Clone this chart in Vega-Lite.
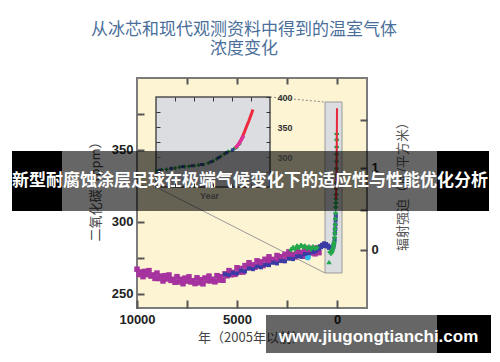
{
"$schema": "https://vega.github.io/schema/vega-lite/v6.json",
"width": 230, "height": 230,
"autosize": {"type": "none"},
"padding": {"left": 137, "top": 78, "right": 133, "bottom": 54},
"background": "white",
"title": {"text": ["从冰芯和现代观测资料中得到的温室气体", "浓度变化"], "font": "Noto Sans CJK SC", "fontSize": 17, "fontWeight": "normal", "color": "#4a6f9a", "lineHeight": 19, "anchor": "middle", "dx": -8, "offset": 19, "frame": "group"},
"config": {"view": {"fill": "#fdf4d3", "stroke": "#7b7b7b", "strokeWidth": 2}, "axis": {"grid": false, "domain": false, "labelFlush": false, "labelOverlap": false, "labelBound": false}},
"datasets": {
"main": [
{"s":"p","t":10000,"c":267},{"s":"p","t":9900,"c":263.3},{"s":"p","t":9800,"c":265.1},{"s":"p","t":9700,"c":261.8},{"s":"p","t":9600,"c":265.5},{"s":"p","t":9500,"c":263.2},{"s":"p","t":9400,"c":266},{"s":"p","t":9300,"c":262.2},{"s":"p","t":9200,"c":263},{"s":"p","t":9100,"c":260.6},
{"s":"p","t":9000,"c":264.3},{"s":"p","t":8900,"c":260.5},{"s":"p","t":8800,"c":262.2},{"s":"p","t":8700,"c":258.8},{"s":"p","t":8600,"c":262.5},{"s":"p","t":8500,"c":260.2},{"s":"p","t":8400,"c":263},{"s":"p","t":8300,"c":259.2},{"s":"p","t":8200,"c":260},{"s":"p","t":8100,"c":257.9},
{"s":"p","t":8000,"c":261.8},{"s":"p","t":7900,"c":258.1},{"s":"p","t":7800,"c":260},{"s":"p","t":7700,"c":256.9},{"s":"p","t":7600,"c":260.8},{"s":"p","t":7500,"c":258.7},{"s":"p","t":7400,"c":261.7},{"s":"p","t":7300,"c":258.1},{"s":"p","t":7200,"c":259},{"s":"p","t":7100,"c":257},
{"s":"p","t":7000,"c":261},{"s":"p","t":6900,"c":257.6},{"s":"p","t":6800,"c":259.7},{"s":"p","t":6700,"c":256.8},{"s":"p","t":6600,"c":260.9},{"s":"p","t":6500,"c":259},{"s":"p","t":6400,"c":262.2},{"s":"p","t":6300,"c":258.8},{"s":"p","t":6200,"c":260},{"s":"p","t":6100,"c":258.2},
{"s":"p","t":6000,"c":262.5},{"s":"p","t":5900,"c":259.4},{"s":"p","t":5800,"c":261.8},{"s":"p","t":5700,"c":259.3},{"s":"p","t":5600,"c":263.8},{"s":"p","t":5500,"c":262.4},{"s":"p","t":5400,"c":266},{"s":"p","t":5300,"c":263.1},{"s":"p","t":5200,"c":264.8},{"s":"p","t":5100,"c":263.4},
{"s":"p","t":5000,"c":268},{"s":"p","t":4900,"c":265},{"s":"p","t":4800,"c":267.5},{"s":"p","t":4700,"c":265},{"s":"p","t":4600,"c":269.5},{"s":"p","t":4500,"c":268},{"s":"p","t":4400,"c":271.5},{"s":"p","t":4300,"c":268.5},{"s":"p","t":4200,"c":270},{"s":"p","t":4100,"c":268.4},
{"s":"p","t":4000,"c":272.8},{"s":"p","t":3900,"c":269.7},{"s":"p","t":3800,"c":272.1},{"s":"p","t":3700,"c":269.5},{"s":"p","t":3600,"c":273.9},{"s":"p","t":3500,"c":272.3},{"s":"p","t":3400,"c":275.6},{"s":"p","t":3300,"c":272.5},{"s":"p","t":3200,"c":273.8},{"s":"p","t":3100,"c":272.2},
{"s":"p","t":3000,"c":276.5},{"s":"p","t":2900,"c":273.4},{"s":"p","t":2800,"c":275.7},{"s":"p","t":2700,"c":273.1},{"s":"p","t":2600,"c":277.4},{"s":"p","t":2500,"c":275.8},{"s":"p","t":2400,"c":279.1},{"s":"p","t":2300,"c":275.9},{"s":"p","t":2200,"c":277.2},{"s":"p","t":2100,"c":275.5},
{"s":"p","t":2000,"c":279.7},{"s":"p","t":1900,"c":276.5},{"s":"p","t":1800,"c":278.7},{"s":"p","t":1700,"c":276},{"s":"p","t":1600,"c":280.2},{"s":"p","t":1500,"c":278.4},{"s":"p","t":1400,"c":281.6},{"s":"p","t":1300,"c":278.3},{"s":"p","t":1200,"c":279.5},{"s":"p","t":1100,"c":277.7},
{"s":"p","t":1000,"c":281.8},{"s":"p","t":900,"c":278.5},
{"s":"b","t":5600,"c":263.5},{"s":"b","t":5400,"c":263},{"s":"b","t":5200,"c":264.5},{"s":"b","t":5000,"c":264},{"s":"b","t":4800,"c":266},{"s":"b","t":4600,"c":265.5},{"s":"b","t":4400,"c":267.5},{"s":"b","t":4200,"c":267},{"s":"b","t":4000,"c":268.8},{"s":"b","t":3800,"c":268.3},
{"s":"b","t":3600,"c":270},{"s":"b","t":3400,"c":269.8},{"s":"b","t":3200,"c":271.5},{"s":"b","t":3000,"c":271},{"s":"b","t":2800,"c":272.8},{"s":"b","t":2600,"c":272.5},{"s":"b","t":2400,"c":274.3},{"s":"b","t":2200,"c":274},{"s":"b","t":2000,"c":276},{"s":"b","t":1800,"c":275.8},
{"s":"b","t":1600,"c":277.5},{"s":"b","t":1400,"c":277.3},{"s":"b","t":1200,"c":279},{"s":"b","t":1150,"c":280},{"s":"b","t":1100,"c":279.5},{"s":"b","t":1050,"c":281},{"s":"b","t":1000,"c":280.5},{"s":"b","t":950,"c":282},{"s":"b","t":900,"c":281.2},{"s":"b","t":850,"c":283},
{"s":"b","t":800,"c":282.2},{"s":"b","t":750,"c":284},{"s":"b","t":700,"c":283},{"s":"b","t":650,"c":285},{"s":"b","t":600,"c":283.5},{"s":"b","t":550,"c":284.5},{"s":"b","t":500,"c":282.8},{"s":"b","t":450,"c":283.5},{"s":"b","t":400,"c":281.8},{"s":"b","t":350,"c":282.5},
{"s":"b","t":300,"c":280.8},{"s":"b","t":250,"c":281},{"s":"b","t":200,"c":282},{"s":"b","t":180,"c":283},{"s":"b","t":160,"c":284},{"s":"b","t":140,"c":285.5},{"s":"b","t":120,"c":288},{"s":"b","t":100,"c":292},{"s":"b","t":90,"c":295},{"s":"b","t":80,"c":298},{"s":"b","t":70,"c":301},{"s":"b","t":60,"c":304},
{"s":"c","t":1500,"c":275},{"s":"c","t":1450,"c":274.5},{"s":"c","t":1400,"c":275.5},
{"s":"g","t":2300,"c":280.5},{"s":"g","t":2200,"c":282},{"s":"g","t":2100,"c":281},{"s":"g","t":2000,"c":283},{"s":"g","t":1900,"c":282},{"s":"g","t":1800,"c":283.5},{"s":"g","t":1700,"c":282.5},{"s":"g","t":1600,"c":283},{"s":"g","t":1500,"c":281.5},{"s":"g","t":1400,"c":282.5},{"s":"g","t":1300,"c":281},{"s":"g","t":1200,"c":282.5},{"s":"g","t":1100,"c":281.5},{"s":"g","t":1000,"c":282},
{"s":"g","t":350,"c":279},{"s":"g","t":300,"c":278},{"s":"g","t":260,"c":279},{"s":"g","t":230,"c":280},{"s":"g","t":200,"c":281.5},{"s":"g","t":180,"c":283},{"s":"g","t":160,"c":284.5},{"s":"g","t":140,"c":286},{"s":"g","t":120,"c":289},{"s":"g","t":110,"c":292},{"s":"g","t":100,"c":295},{"s":"g","t":90,"c":298},{"s":"g","t":80,"c":302},{"s":"g","t":70,"c":306},{"s":"g","t":60,"c":310},{"s":"g","t":55,"c":313},{"s":"g","t":50,"c":316},{"s":"g","t":45,"c":319},{"s":"g","t":40,"c":323},{"s":"g","t":35,"c":327},{"s":"g","t":30,"c":332},{"s":"g","t":27,"c":337},{"s":"g","t":24,"c":342},{"s":"g","t":20,"c":347},{"s":"g","t":17,"c":352},{"s":"g","t":14,"c":357},{"s":"g","t":11,"c":361},
{"s":"gt","t":400,"c":272},
{"s":"r","t":47,"c":315.5},{"s":"r","t":42,"c":318},{"s":"r","t":37,"c":322},{"s":"r","t":32,"c":326},{"s":"r","t":27,"c":331},{"s":"r","t":22,"c":337},{"s":"r","t":17,"c":345},{"s":"r","t":12,"c":352},{"s":"r","t":7,"c":362},{"s":"r","t":2,"c":373},{"s":"r","t":0,"c":379}
],
"inset": [
{"s":"g","t":1752,"c":277.5},{"s":"g","t":1765,"c":278.5},{"s":"g","t":1778,"c":279.5},{"s":"g","t":1790,"c":280.5},{"s":"g","t":1800,"c":281.5},{"s":"g","t":1812,"c":283},{"s":"g","t":1825,"c":284},{"s":"g","t":1837,"c":284.5},{"s":"g","t":1850,"c":285.5},{"s":"g","t":1862,"c":286.5},{"s":"g","t":1875,"c":287.5},{"s":"g","t":1888,"c":290},{"s":"g","t":1900,"c":293},{"s":"g","t":1910,"c":297},{"s":"g","t":1920,"c":301},{"s":"g","t":1930,"c":305},{"s":"g","t":1940,"c":309},{"s":"g","t":1950,"c":311},{"s":"g","t":1955,"c":313.5},{"s":"g","t":1962,"c":316},{"s":"g","t":1970,"c":322},{"s":"g","t":1978,"c":333},
{"s":"b","t":1760,"c":278},{"s":"b","t":1790,"c":281},{"s":"b","t":1820,"c":284},{"s":"b","t":1845,"c":285.5},{"s":"b","t":1870,"c":287.5},{"s":"b","t":1895,"c":292},{"s":"b","t":1915,"c":299},{"s":"b","t":1935,"c":307},{"s":"b","t":1952,"c":312},
{"s":"m","t":1960,"c":316},{"s":"m","t":1964,"c":318.5},{"s":"m","t":1968,"c":322},{"s":"m","t":1972,"c":326},{"s":"m","t":1976,"c":330},{"s":"m","t":1980,"c":336},
{"s":"r","t":1958,"c":315.5},{"s":"r","t":1962,"c":317.5},{"s":"r","t":1966,"c":320.5},{"s":"r","t":1970,"c":324.5},{"s":"r","t":1974,"c":329},{"s":"r","t":1978,"c":334.5},{"s":"r","t":1982,"c":340.5},{"s":"r","t":1986,"c":347},{"s":"r","t":1990,"c":353.5},{"s":"r","t":1994,"c":359.5},{"s":"r","t":1998,"c":366.5},{"s":"r","t":2002,"c":373.5},{"s":"r","t":2005,"c":379}
]
},
"layer": [
{
"layer": [
{"data": {"values": [{}]}, "mark": {"type": "rect", "fill": "#dcdde1", "stroke": "#9a9a9a", "strokeWidth": 1},
 "encoding": {"x": {"datum": 600, "type": "quantitative", "scale": {"domain": [10000, -1500], "nice": false, "zero": false}, "axis": null}, "x2": {"datum": -250}, "y": {"datum": 383.3, "type": "quantitative", "scale": {"domain": [240, 400], "nice": false, "zero": false}, "axis": null}, "y2": {"datum": 264.35}}},
{"data": {"values": [{}]}, "mark": {"type": "rule", "color": "#8a8a8a", "strokeWidth": 1, "strokeDash": [2, 2]},
 "encoding": {"x": {"datum": 3350, "type": "quantitative", "scale": {"domain": [10000, -1500], "nice": false, "zero": false}, "axis": null}, "x2": {"datum": 600}, "y": {"datum": 386.78, "type": "quantitative", "scale": {"domain": [240, 400], "nice": false, "zero": false}, "axis": null}, "y2": {"datum": 383.3}}},
{"data": {"values": [{}]}, "mark": {"type": "rule", "color": "#9a9a9a", "strokeWidth": 1},
 "encoding": {"x": {"datum": 9050, "type": "quantitative", "scale": {"domain": [10000, -1500], "nice": false, "zero": false}, "axis": null}, "x2": {"datum": 600}, "y": {"datum": 324.17, "type": "quantitative", "scale": {"domain": [240, 400], "nice": false, "zero": false}, "axis": null}, "y2": {"datum": 264.35}}},
{"data": {"name": "main"}, "transform": [{"filter": "datum.s == 'p'"}], "mark": {"type": "square", "size": 30, "color": "#a5329e", "opacity": 1, "filled": true},
 "encoding": {
  "x": {"field": "t", "type": "quantitative", "scale": {"domain": [10000, -1500], "nice": false, "zero": false},
   "axis": {"orient": "bottom", "values": [10000, 7500, 5000, 2500, 0], "format": "d", "labelExpr": "datum.value % 5000 == 0 ? datum.label : ''", "tickSize": -8, "tickWidth": 2, "tickColor": "#555", "labelPadding": 13, "labelFont": "Liberation Sans", "labelFontWeight": "bold", "labelFontSize": 13, "labelColor": "#222", "title": "年（2005年以前）", "titleFont": "Noto Sans CJK SC", "titleFontSize": 13, "titleFontWeight": "normal", "titleColor": "#444", "titleX": 114, "titleY": 29, "titleBaseline": "middle", "titleAlign": "center"}},
  "y": {"field": "c", "type": "quantitative", "scale": {"domain": [240, 400], "nice": false, "zero": false},
   "axis": {"orient": "left", "values": [250, 275, 300, 325, 350, 375], "labelExpr": "datum.value % 50 == 0 ? datum.label : ''", "tickSize": -7, "tickWidth": 2, "tickColor": "#555", "labelPadding": 11, "labelFont": "Liberation Sans", "labelFontWeight": "bold", "labelFontSize": 13, "labelColor": "#222", "title": "二氧化碳（ppm）", "titleFont": "Noto Sans CJK SC", "titleFontSize": 13, "titleFontWeight": "normal", "titleColor": "#444", "titleX": -42, "titleY": 110, "titleAngle": -90, "titleBaseline": "middle", "titleAlign": "center"}}}},
{"data": {"name": "main"}, "transform": [{"filter": "datum.s == 'b'"}], "mark": {"type": "square", "size": 16, "color": "#3b3ba6", "opacity": 1, "filled": true},
 "encoding": {"x": {"field": "t", "type": "quantitative", "scale": {"domain": [10000, -1500], "nice": false, "zero": false}, "axis": null}, "y": {"field": "c", "type": "quantitative", "scale": {"domain": [240, 400], "nice": false, "zero": false}, "axis": null}}},
{"data": {"name": "main"}, "transform": [{"filter": "datum.s == 'c'"}], "mark": {"type": "square", "size": 14, "color": "#30b8e8", "opacity": 1, "filled": true},
 "encoding": {"x": {"field": "t", "type": "quantitative", "scale": {"domain": [10000, -1500], "nice": false, "zero": false}, "axis": null}, "y": {"field": "c", "type": "quantitative", "scale": {"domain": [240, 400], "nice": false, "zero": false}, "axis": null}}},
{"data": {"name": "main"}, "transform": [{"filter": "datum.s == 'g'"}], "mark": {"type": "point", "shape": "cross", "size": 22, "color": "#22a84a", "opacity": 1, "filled": true},
 "encoding": {
  "x": {"field": "t", "type": "quantitative", "scale": {"domain": [10000, -1500], "nice": false, "zero": false},
   "axis": {"orient": "top", "values": [7500, 5000, 2500, 0], "labels": false, "tickSize": -6, "tickWidth": 2, "tickColor": "#555", "title": null}},
  "y": {"field": "c", "type": "quantitative", "scale": {"domain": [240, 400], "nice": false, "zero": false},
   "axis": {"orient": "right", "values": [280.35, 308.2, 337.7, 370.8], "labelExpr": "datum.value < 290 ? '0' : (datum.value > 330 && datum.value < 345 ? '1' : '')", "tickSize": -7, "tickWidth": 2, "tickColor": "#555", "labelPadding": 11, "labelFont": "Liberation Sans", "labelFontWeight": "bold", "labelFontSize": 13, "labelColor": "#222", "title": "辐射强迫（瓦/平方米）", "titleFont": "Noto Sans CJK SC", "titleFontSize": 13, "titleFontWeight": "normal", "titleColor": "#555", "titleX": 35, "titleY": 105, "titleAngle": -90, "titleBaseline": "middle", "titleAlign": "center"}}}},
{"data": {"name": "main"}, "transform": [{"filter": "datum.s == 'gt'"}], "mark": {"type": "point", "shape": "triangle-up", "size": 30, "color": "#22a84a", "opacity": 1, "filled": true},
 "encoding": {"x": {"field": "t", "type": "quantitative", "scale": {"domain": [10000, -1500], "nice": false, "zero": false}, "axis": null}, "y": {"field": "c", "type": "quantitative", "scale": {"domain": [240, 400], "nice": false, "zero": false}, "axis": null}}},
{"data": {"name": "main"}, "transform": [{"filter": "datum.s == 'r'"}], "mark": {"type": "line", "color": "#e8283a", "strokeWidth": 2},
 "encoding": {"x": {"field": "t", "type": "quantitative", "scale": {"domain": [10000, -1500], "nice": false, "zero": false}, "axis": null}, "y": {"field": "c", "type": "quantitative", "scale": {"domain": [240, 400], "nice": false, "zero": false}, "axis": null}}}
],
"resolve": {"axis": {"x": "independent", "y": "independent"}}
},
{
"layer": [
{"data": {"values": [{}]}, "mark": {"type": "rect", "fill": "#dcdde1", "stroke": "#4d4d4d", "strokeWidth": 1.5},
 "encoding": {"x": {"datum": 1750, "type": "quantitative", "scale": {"domain": [1750, 2050], "range": [19, 133], "nice": false, "zero": false}, "axis": null}, "x2": {"datum": 2050}, "y": {"datum": 400, "type": "quantitative", "scale": {"domain": [250, 400], "range": [109, 19], "nice": false, "zero": false}, "axis": null}, "y2": {"datum": 250}}},
{"data": {"name": "inset"}, "transform": [{"filter": "datum.s == 'g'"}], "mark": {"type": "point", "shape": "cross", "size": 14, "color": "#1b8a3e", "opacity": 1, "filled": true},
 "encoding": {
  "x": {"field": "t", "type": "quantitative", "scale": {"domain": [1750, 2050], "range": [19, 133], "nice": false, "zero": false},
   "axis": {"orient": "bottom", "offset": -121, "values": [1800, 1850, 1900, 1950, 2000], "labels": false, "tickSize": -4, "tickWidth": 1, "tickColor": "#333", "zindex": 1, "title": "Year", "titleFont": "Liberation Sans", "titleFontWeight": "bold", "titleFontSize": 9, "titleColor": "#333", "titleX": 72, "titleY": 8, "titleBaseline": "middle", "titleAlign": "center"}},
  "y": {"field": "c", "type": "quantitative", "scale": {"domain": [250, 400], "range": [109, 19], "nice": false, "zero": false},
   "axis": {"orient": "right", "offset": -97, "values": [275, 300, 325, 350, 375, 400], "labelExpr": "datum.value % 50 == 0 ? datum.label : ''", "tickSize": -4, "tickWidth": 1, "tickColor": "#333", "labelPadding": 11, "labelFont": "Liberation Sans", "labelFontWeight": "bold", "labelFontSize": 9, "labelColor": "#333", "zindex": 1, "title": null}}}},
{"data": {"name": "inset"}, "transform": [{"filter": "datum.s == 'b'"}], "mark": {"type": "square", "size": 9, "color": "#3a3aa6", "opacity": 1, "filled": true},
 "encoding": {"x": {"field": "t", "type": "quantitative", "scale": {"domain": [1750, 2050], "range": [19, 133], "nice": false, "zero": false}, "axis": null}, "y": {"field": "c", "type": "quantitative", "scale": {"domain": [250, 400], "range": [109, 19], "nice": false, "zero": false}, "axis": null}}},
{"data": {"name": "inset"}, "transform": [{"filter": "datum.s == 'r'"}], "mark": {"type": "line", "color": "#ee2a3c", "strokeWidth": 3},
 "encoding": {
  "x": {"field": "t", "type": "quantitative", "scale": {"domain": [1750, 2050], "range": [19, 133], "nice": false, "zero": false},
   "axis": {"orient": "top", "offset": -19, "values": [1800, 1850, 1900, 1950, 2000], "labels": false, "tickSize": -4, "tickWidth": 1, "tickColor": "#333", "zindex": 1, "title": null}},
  "y": {"field": "c", "type": "quantitative", "scale": {"domain": [250, 400], "range": [109, 19], "nice": false, "zero": false},
   "axis": {"orient": "left", "offset": -19, "values": [275, 300, 325, 350, 375], "labels": false, "tickSize": -4, "tickWidth": 1, "tickColor": "#333", "zindex": 1, "title": null}}}},
{"data": {"name": "inset"}, "transform": [{"filter": "datum.s == 'm'"}], "mark": {"type": "line", "color": "#e0309a", "strokeWidth": 3.5},
 "encoding": {"x": {"field": "t", "type": "quantitative", "scale": {"domain": [1750, 2050], "range": [19, 133], "nice": false, "zero": false}, "axis": null}, "y": {"field": "c", "type": "quantitative", "scale": {"domain": [250, 400], "range": [109, 19], "nice": false, "zero": false}, "axis": null}}}
],
"resolve": {"axis": {"x": "independent", "y": "independent"}}
},
{
"layer": [
{"data": {"values": [{}]}, "mark": {"type": "rect", "fill": "black", "fillOpacity": 0.6},
 "encoding": {"x": {"datum": 16250, "type": "quantitative", "scale": {"domain": [10000, -1500], "nice": false, "zero": false}, "axis": null}, "x2": {"datum": -7600}, "y": {"datum": 349.22, "type": "quantitative", "scale": {"domain": [240, 400], "nice": false, "zero": false}, "axis": null}, "y2": {"datum": 307.48}}},
{"data": {"values": [{}]}, "mark": {"type": "rect", "fill": "black"},
 "encoding": {"x": {"datum": 16250, "type": "quantitative", "scale": {"domain": [10000, -1500], "nice": false, "zero": false}, "axis": null}, "x2": {"datum": 13750}, "y": {"datum": 349.22, "type": "quantitative", "scale": {"domain": [240, 400], "nice": false, "zero": false}, "axis": null}, "y2": {"datum": 307.48}}},
{"data": {"values": [{}]}, "mark": {"type": "rect", "fill": "black"},
 "encoding": {"x": {"datum": -5000, "type": "quantitative", "scale": {"domain": [10000, -1500], "nice": false, "zero": false}, "axis": null}, "x2": {"datum": -7600}, "y": {"datum": 349.22, "type": "quantitative", "scale": {"domain": [240, 400], "nice": false, "zero": false}, "axis": null}, "y2": {"datum": 307.48}}},
{"data": {"values": [{}]}, "mark": {"type": "text", "text": "新型耐腐蚀涂层足球在极端气候变化下的适应性与性能优化分析", "font": "Noto Sans CJK SC", "fontSize": 17, "fontWeight": "bold", "color": "white", "align": "center", "baseline": "middle"},
 "encoding": {"x": {"datum": 4350, "type": "quantitative", "scale": {"domain": [10000, -1500], "nice": false, "zero": false}, "axis": null}, "y": {"datum": 328.35, "type": "quantitative", "scale": {"domain": [240, 400], "nice": false, "zero": false}, "axis": null}}},
{"data": {"values": [{}]}, "mark": {"type": "rect", "fill": "black", "fillOpacity": 0.6},
 "encoding": {"x": {"datum": 3550, "type": "quantitative", "scale": {"domain": [10000, -1500], "nice": false, "zero": false}, "axis": null}, "x2": {"datum": -7700}, "y": {"datum": 235.13, "type": "quantitative", "scale": {"domain": [240, 400], "nice": false, "zero": false}, "axis": null}, "y2": {"datum": 208.7}}},
{"data": {"values": [{}]}, "mark": {"type": "rect", "fill": "black"},
 "encoding": {"x": {"datum": -5000, "type": "quantitative", "scale": {"domain": [10000, -1500], "nice": false, "zero": false}, "axis": null}, "x2": {"datum": -7700}, "y": {"datum": 235.13, "type": "quantitative", "scale": {"domain": [240, 400], "nice": false, "zero": false}, "axis": null}, "y2": {"datum": 208.7}}},
{"data": {"values": [{}]}, "mark": {"type": "text", "text": "www.jiugongtianchi.com", "font": "Liberation Sans", "fontSize": 17, "fontWeight": "bold", "color": "white", "align": "center", "baseline": "middle"},
 "encoding": {"x": {"datum": -2075, "type": "quantitative", "scale": {"domain": [10000, -1500], "nice": false, "zero": false}, "axis": null}, "y": {"datum": 219.83, "type": "quantitative", "scale": {"domain": [240, 400], "nice": false, "zero": false}, "axis": null}}}
]
}
],
"resolve": {"scale": {"x": "independent", "y": "independent"}, "axis": {"x": "independent", "y": "independent"}}
}
